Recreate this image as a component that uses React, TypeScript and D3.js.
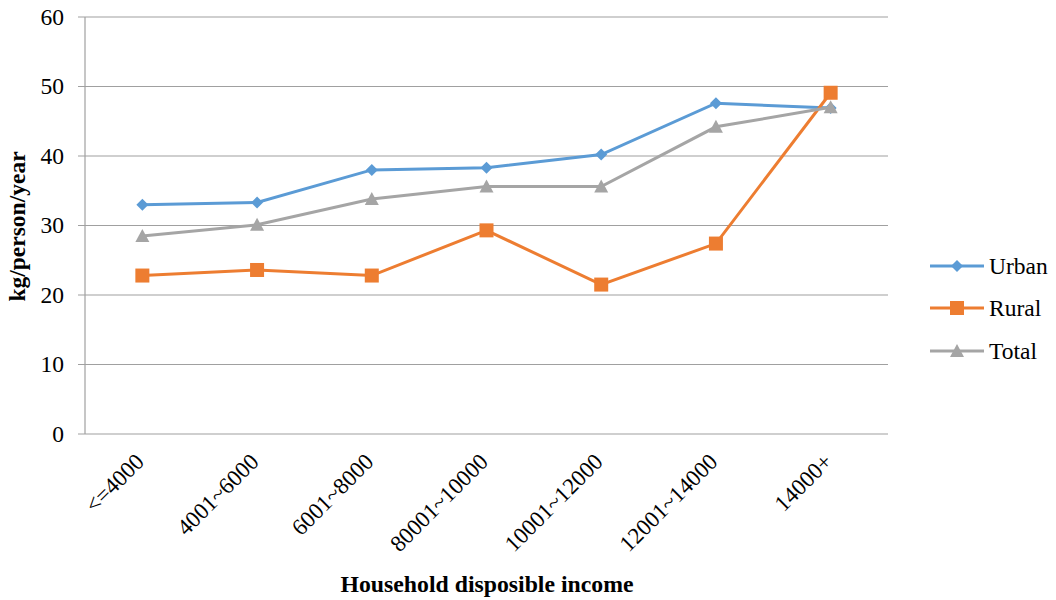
import React from "react";
import * as d3 from "d3";

const categories = ["<=4000", "4001~6000", "6001~8000", "80001~10000", "10001~12000", "12001~14000", "14000+"];
const urban = [33.0, 33.3, 38.0, 38.3, 40.2, 47.6, 46.9];
const rural = [22.8, 23.6, 22.8, 29.3, 21.5, 27.4, 49.1];
const total = [28.5, 30.1, 33.8, 35.6, 35.6, 44.2, 47.0];
const yTicks = [0, 10, 20, 30, 40, 50, 60];

const series = [
  { name: "Urban", values: urban, color: "#5b9bd5", marker: "diamond" },
  { name: "Rural", values: rural, color: "#ed7d31", marker: "square" },
  { name: "Total", values: total, color: "#a5a5a5", marker: "triangle" },
];

const W = 1056, H = 600;
const left = 85, right = 888, top = 17, bottom = 434;
const font = "'Liberation Serif', 'Times New Roman', serif";

function Marker({ type, x, y, color }: { type: string; x: number; y: number; color: string }) {
  if (type === "diamond") {
    const s = 6;
    return <path d={`M${x},${y - s}L${x + s},${y}L${x},${y + s}L${x - s},${y}Z`} fill={color} />;
  }
  if (type === "square") {
    const s = 7;
    return <rect x={x - s} y={y - s} width={2 * s} height={2 * s} fill={color} />;
  }
  const s = 7;
  return <path d={`M${x},${y - s}L${x + s},${y + s - 1}L${x - s},${y + s - 1}Z`} fill={color} />;
}

export default function App() {
  const x = d3.scaleBand<string>().domain(categories).range([left, right]);
  const y = d3.scaleLinear().domain([0, 60]).range([bottom, top]);
  const cx = (c: string) => (x(c) as number) + x.bandwidth() / 2;
  const line = d3.line<number>().x((_, i) => cx(categories[i])).y((d) => y(d));
  const legendY = [266, 308, 351];

  return (
    <svg width={W} height={H} style={{ position: "absolute", left: 0, top: 0, background: "#fff", fontFamily: font }}>
      {yTicks.map((t) => (
        <g key={t}>
          <line x1={78} x2={right} y1={y(t)} y2={y(t)} stroke="#a0a0a0" strokeWidth={1.2} />
          <text x={64} y={y(t)} dy="0.33em" textAnchor="end" fontSize={23.5} fill="#000">{t}</text>
        </g>
      ))}
      <line x1={left} x2={left} y1={top} y2={bottom} stroke="#a0a0a0" strokeWidth={1.2} />
      {categories.map((c) => (
        <text key={c} transform={`translate(${cx(c) + 3},${463}) rotate(-45)`} textAnchor="end" fontSize={23} fill="#000">{c}</text>
      ))}
      {series.map((s) => (
        <g key={s.name}>
          <path d={line(s.values) as string} fill="none" stroke={s.color} strokeWidth={3} />
          {s.values.map((v, i) => (
            <Marker key={i} type={s.marker} x={cx(categories[i])} y={y(v)} color={s.color} />
          ))}
        </g>
      ))}
      {series.map((s, i) => (
        <g key={s.name}>
          <line x1={930} x2={984} y1={legendY[i]} y2={legendY[i]} stroke={s.color} strokeWidth={3} />
          <Marker type={s.marker} x={957} y={legendY[i]} color={s.color} />
          <text x={989} y={legendY[i]} dy="0.33em" fontSize={23.5} fill="#000">{s.name}</text>
        </g>
      ))}
      <text transform={`translate(25,${(top + bottom) / 2 + 1}) rotate(-90)`} textAnchor="middle" fontSize={23.5} fontWeight="bold" fill="#000">kg/person/year</text>
      <text x={487} y={592} textAnchor="middle" fontSize={23.75} fontWeight="bold" fill="#000">Household disposible income</text>
    </svg>
  );
}
